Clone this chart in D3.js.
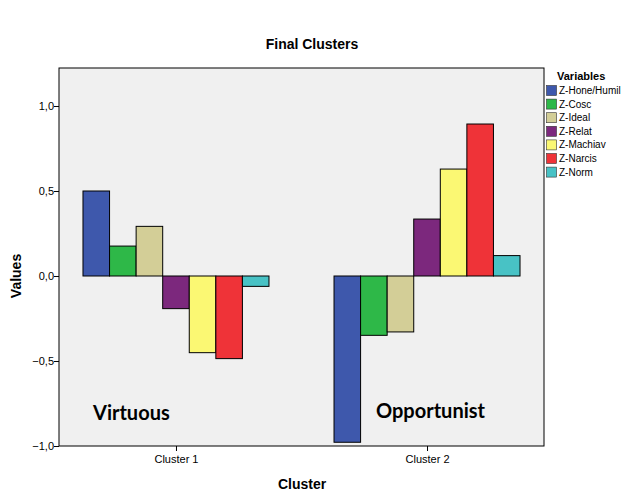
<!DOCTYPE html>
<html>
<head>
<meta charset="utf-8">
<script src="https://cdn.jsdelivr.net/npm/d3@7"></script>
<style>
  body { margin: 0; background: #fff; }
  text { font-family: Arial, "Liberation Sans", sans-serif; }
</style>
</head>
<body>
<div id="chart-container"></div>
<script>
const W = 626, H = 501;
const margin = { top: 68, right: 82, bottom: 55, left: 59 };
const width = W - margin.left - margin.right;
const height = H - margin.top - margin.bottom;

// data
const clusters = ["Cluster 1", "Cluster 2"];
const variables = ["Z-Hone/Humil", "Z-Cosc", "Z-Ideal", "Z-Relat", "Z-Machiav", "Z-Narcis", "Z-Norm"];
const cluster1Values = [0.50, 0.176, 0.292, -0.192, -0.451, -0.486, -0.061];
const cluster2Values = [-0.978, -0.349, -0.329, 0.335, 0.629, 0.894, 0.12];
const clusterNames = ["Virtuous", "Opportunist"];
const yTicks = [-1.0, -0.5, 0.0, 0.5, 1.0];
const colors = ["#3e58ac", "#2eb848", "#d3ce97", "#7c287d", "#fbf873", "#ef3338", "#48c2c5"];

const dataset = clusters.map((c, i) => ({
  cluster: c,
  values: variables.map((v, j) => ({ key: v, value: [cluster1Values, cluster2Values][i][j] }))
}));

const svg = d3.select("#chart-container")
  .append("svg")
  .attr("width", W)
  .attr("height", H);

const g = svg.append("g")
  .attr("transform", `translate(${margin.left},${margin.top})`);

const x0 = d3.scalePoint().domain(clusters).range([0, width]).padding(0.466);
const groupWidth = 186;
const x1 = d3.scaleBand().domain(variables).range([-groupWidth / 2, groupWidth / 2]);
const y = d3.scaleLinear().domain([-1.0, 1.2235]).range([height, 0]);
const color = d3.scaleOrdinal().domain(variables).range(colors);

// plot background
g.append("rect")
  .attr("width", width)
  .attr("height", height)
  .attr("fill", "#f0f0f0");

// bars
g.selectAll(".group")
  .data(dataset)
  .enter().append("g")
  .attr("class", "group")
  .attr("transform", d => `translate(${x0(d.cluster)},0)`)
  .selectAll("rect")
  .data(d => d.values)
  .enter().append("rect")
  .attr("x", d => x1(d.key))
  .attr("width", x1.bandwidth())
  .attr("y", d => y(Math.max(0, d.value)))
  .attr("height", d => Math.abs(y(d.value) - y(0)))
  .attr("fill", d => color(d.key))
  .attr("stroke", "#000")
  .attr("stroke-width", 1);

// cluster labels inside plot
g.selectAll(".cluster-name")
  .data(clusterNames)
  .enter().append("text")
  .attr("class", "cluster-name")
  .attr("x", (d, i) => [34, 317][i])
  .attr("y", (d, i) => [352, 350][i])
  .style("font-family", "Lato, 'Open Sans', sans-serif")
  .style("font-size", "20px")
  .style("font-weight", "bold")
  .style("fill", "#000")
  .text(d => d);

// border
g.append("rect")
  .attr("width", width)
  .attr("height", height)
  .attr("fill", "none")
  .attr("stroke", "#000")
  .attr("stroke-width", 1);

// y axis
const yAxis = g.append("g")
  .call(d3.axisLeft(y).tickValues(yTicks).tickSize(5).tickFormat(d => d3.format(".1f")(d).replace(".", ",")));
yAxis.select(".domain").remove();
yAxis.selectAll("text").style("font-size", "11px").attr("dy", "0.32em").attr("x", -5);

// x axis
const xAxis = g.append("g")
  .attr("transform", `translate(0,${height})`)
  .call(d3.axisBottom(x0).tickSize(5));
xAxis.select(".domain").remove();
xAxis.selectAll("text").style("font-size", "11px").attr("y", 9);

// titles
svg.append("text")
  .attr("x", 312)
  .attr("y", 49)
  .attr("text-anchor", "middle")
  .style("font-size", "14px")
  .style("font-weight", "bold")
  .text("Final Clusters");

svg.append("text")
  .attr("transform", `translate(21,${margin.top + y(0)}) rotate(-90)`)
  .attr("text-anchor", "middle")
  .style("font-size", "14px")
  .style("font-weight", "bold")
  .text("Values");

svg.append("text")
  .attr("x", 302)
  .attr("y", 489)
  .attr("text-anchor", "middle")
  .style("font-size", "14px")
  .style("font-weight", "bold")
  .text("Cluster");

// legend
const legend = svg.append("g")
  .attr("transform", "translate(546,72)");

legend.append("text")
  .attr("x", 11)
  .attr("y", 8)
  .style("font-size", "11px")
  .style("font-weight", "bold")
  .text("Variables");

legend.selectAll(".legend-item")
  .data(variables)
  .enter().append("g")
  .attr("class", "legend-item")
  .attr("transform", (d, i) => `translate(0, ${13 + i * 13.6})`)
  .each(function(d) {
    d3.select(this).append("rect")
      .attr("x", 0.5)
      .attr("y", 0.5)
      .attr("width", 10)
      .attr("height", 10)
      .attr("fill", color(d))
      .attr("stroke", "#333")
      .attr("stroke-width", 0.6);
    d3.select(this).append("text")
      .attr("x", 13)
      .attr("y", 5.5)
      .attr("dy", "0.35em")
      .style("font-size", "10px")
      .text(d);
  });
</script>
</body>
</html>
